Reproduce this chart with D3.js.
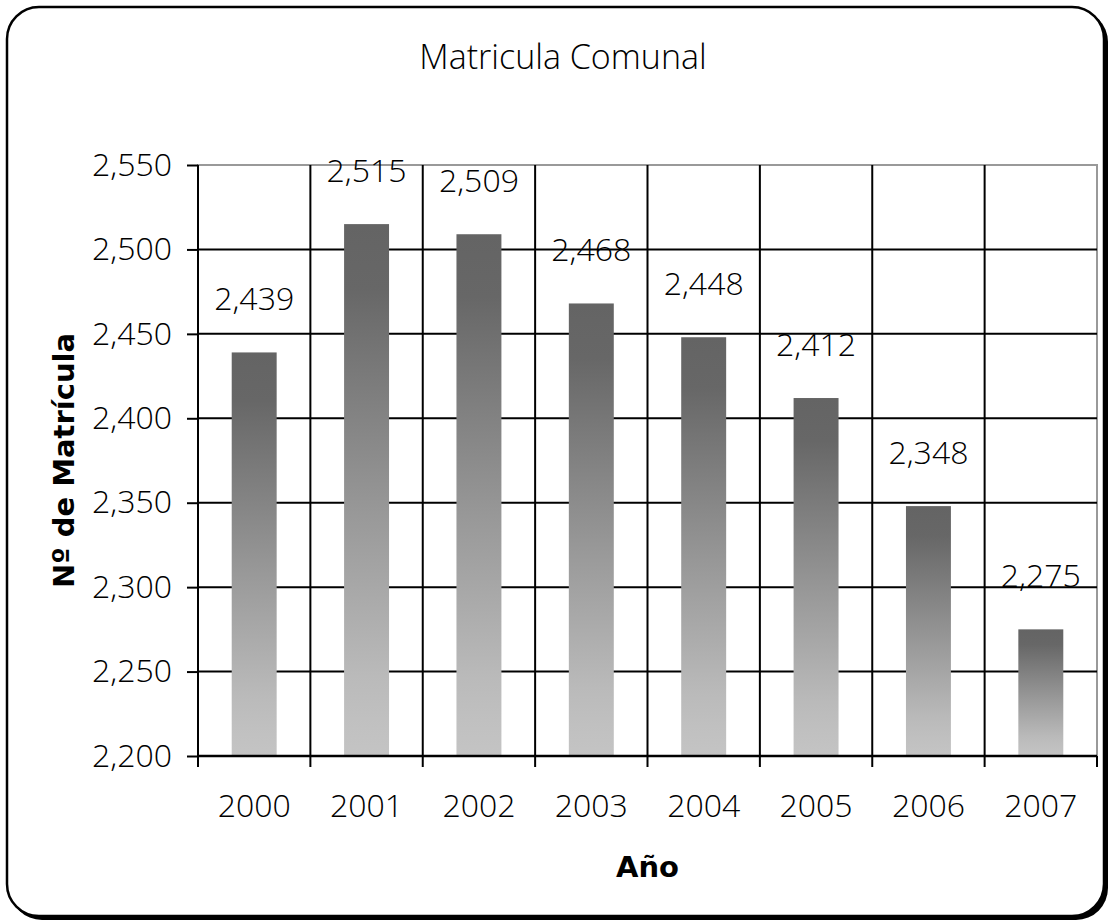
<!DOCTYPE html>
<html>
<head>
<meta charset="utf-8">
<script src="https://cdn.jsdelivr.net/npm/d3@7"></script>
<style>
  body { margin: 0; background: #fff; }
  text { font-family: "Open Sans", "DejaVu Sans", sans-serif; fill: #000; }
</style>
</head>
<body>
<div id="chart"></div>
<script>
// data
const years = ["2000", "2001", "2002", "2003", "2004", "2005", "2006", "2007"]
const matricula = [2439, 2515, 2509, 2468, 2448, 2412, 2348, 2275]
const yTicks = [2200, 2250, 2300, 2350, 2400, 2450, 2500, 2550]

const W = 1112, H = 923
const margin = {top: 165, right: 15, bottom: 167, left: 198}
const width = W - margin.left - margin.right
const height = H - margin.top - margin.bottom
const tickFont = '"Open Sans", "DejaVu Sans", sans-serif'
const boldFont = '"DejaVu Sans", sans-serif'

const root = d3.select("#chart").append("svg")
    .attr("width", W)
    .attr("height", H)

// gradient for the bars (dark top, light bottom)
const defs = root.append("defs")
const grad = defs.append("linearGradient")
    .attr("id", "barGrad")
    .attr("x1", 0).attr("y1", 0).attr("x2", 0).attr("y2", 1)
grad.selectAll("stop")
    .data([[0, "#646464"], [0.12, "#676767"], [0.55, "#999"], [0.85, "#bababa"], [0.93, "#c0c0c0"], [1, "#c4c4c4"]])
    .join("stop")
    .attr("offset", d => d[0])
    .attr("stop-color", d => d[1])

// outer frame with shadow
root.append("rect")
    .attr("x", 10).attr("y", 10)
    .attr("width", W - 14).attr("height", H - 13)
    .attr("rx", 32).attr("ry", 32)
    .attr("fill", "#000")
root.append("rect")
    .attr("x", 7).attr("y", 7)
    .attr("width", W - 15).attr("height", H - 14)
    .attr("rx", 32).attr("ry", 32)
    .attr("fill", "#fff")
    .attr("stroke", "#000")
    .attr("stroke-width", 2.5)

const svg = root.append("g")
    .attr("transform", `translate(${margin.left},${margin.top})`)

const x = d3.scaleBand()
    .domain(years)
    .range([0, width])
    .paddingInner(0.6)
    .paddingOuter(0.3)

const y = d3.scaleLinear()
    .domain([2200, 2550])
    .range([height, 0])

// plot area border (gray)
svg.append("rect")
    .attr("width", width).attr("height", height)
    .attr("fill", "none")
    .attr("stroke", "#999")
    .attr("stroke-width", 2)

// horizontal gridlines
svg.append("g")
    .selectAll("line")
    .data(yTicks.filter(d => d > 2200 && d < 2550))
    .join("line")
    .attr("x1", 0).attr("x2", width)
    .attr("y1", d => y(d)).attr("y2", d => y(d))
    .attr("stroke", "#000")
    .attr("stroke-width", 2)

// vertical gridlines between categories
const step = x.step()
const boundaries = d3.range(1, years.length).map(i => x(years[i]) - step * x.paddingInner() / 2)
svg.append("g")
    .selectAll("line")
    .data(boundaries)
    .join("line")
    .attr("x1", d => d).attr("x2", d => d)
    .attr("y1", 0).attr("y2", height + 11)
    .attr("stroke", "#000")
    .attr("stroke-width", 2)

// bars
svg.selectAll(".bar")
    .data(matricula)
    .join("rect")
    .attr("class", "bar")
    .attr("x", (d, i) => x(years[i]))
    .attr("width", x.bandwidth())
    .attr("y", d => y(d))
    .attr("height", d => height - y(d))
    .attr("fill", "url(#barGrad)")

// value labels
svg.selectAll(".lbl")
    .data(matricula)
    .join("text")
    .attr("class", "lbl")
    .attr("x", (d, i) => x(years[i]) + x.bandwidth() / 2)
    .attr("y", d => y(d) - 55)
    .attr("text-anchor", "middle")
    .attr("dominant-baseline", "central")
    .style("font-size", "32px")
    .style("font-weight", 300)
    .text(d3.format(","))

// y axis
const yAxis = svg.append("g")
    .call(d3.axisLeft(y).tickValues(yTicks).tickFormat(d3.format(",")).tickSize(11).tickPadding(15))
yAxis.select(".domain").attr("stroke", "#000").attr("stroke-width", 2)
    .attr("d", `M0,0V${height}`)
yAxis.selectAll(".tick line").attr("stroke", "#000").attr("stroke-width", 2)
yAxis.selectAll(".tick text")
    .style("font-size", "32px").style("font-weight", 300)
    .style("font-family", tickFont)

// x axis
const xAxis = svg.append("g")
    .attr("transform", `translate(0,${height})`)
    .call(d3.axisBottom(x).tickSize(0).tickPadding(38))
xAxis.select(".domain").attr("stroke", "#000").attr("stroke-width", 2.5)
    .attr("d", `M0,0H${width}`)
xAxis.selectAll(".tick text")
    .style("font-size", "32px").style("font-weight", 300)
    .style("font-family", tickFont)
// outer ticks at both ends of the x axis
svg.append("g")
    .selectAll("line")
    .data([0, width])
    .join("line")
    .attr("x1", d => d).attr("x2", d => d)
    .attr("y1", height).attr("y2", height + 11)
    .attr("stroke", "#000").attr("stroke-width", 2)

// title
root.append("text")
    .attr("x", 563).attr("y", 56)
    .attr("text-anchor", "middle")
    .attr("dominant-baseline", "central")
    .style("font-size", "34px")
    .style("font-weight", 300)
    .text("Matricula Comunal")

// axis titles
root.append("text")
    .attr("x", margin.left + width / 2).attr("y", 867)
    .attr("text-anchor", "middle")
    .attr("dominant-baseline", "central")
    .style("font-family", boldFont)
    .style("font-size", "29px")
    .style("font-weight", "bold")
    .text("Año")

root.append("text")
    .attr("transform", `translate(64,${margin.top + height / 2}) rotate(-90)`)
    .attr("text-anchor", "middle")
    .attr("dominant-baseline", "central")
    .style("font-family", boldFont)
    .style("font-size", "29px")
    .style("font-weight", "bold")
    .text("Nº de Matrícula")
</script>
</body>
</html>
